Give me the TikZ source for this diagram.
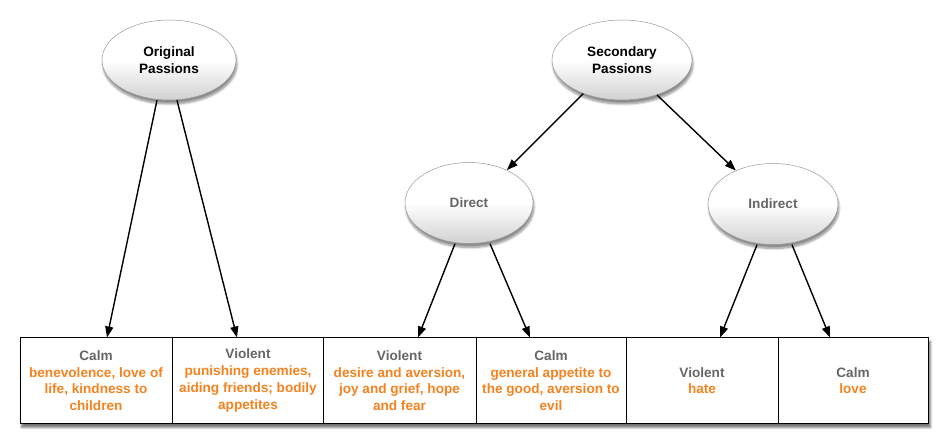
\documentclass[tikz,border=0pt]{standalone}
\usepackage{fontspec}
\setmainfont{Liberation Sans}
\usetikzlibrary{shapes.geometric,shadows.blur,arrows.meta,backgrounds}
\definecolor{hdr}{HTML}{666666}
\definecolor{org}{HTML}{F5821F}
\newcommand\Hd[1]{\textcolor{hdr}{#1}}
\newcommand\Ds[1]{\textcolor{org}{#1}}
\begin{document}
\begin{tikzpicture}[x=1pt,y=-1pt,
  passion/.style={ellipse, draw=black!40, line width=0.5pt, top color=white, bottom color=black!18,
    middle color=white, inner sep=0pt, align=center, font=\fontsize{13.6}{17}\selectfont\bfseries,
    blur shadow={shadow xshift=1pt, shadow yshift=-4pt, shadow blur steps=8, shadow opacity=45}},
  pbox/.style={draw=black, line width=1pt, fill=white, minimum height=85pt, inner sep=0pt,
    align=center, font=\fontsize{13.6}{16.7}\selectfont\bfseries},
  arr/.style={-{Triangle[length=11pt,width=8pt]}, line width=1.4pt}]
\useasboundingbox (0,0) rectangle (948,446);
\node[passion, minimum width=134pt, minimum height=80pt] (op) at (169,60) {Original\\Passions};
\node[passion, minimum width=140pt, minimum height=80pt] (sp) at (622,60) {Secondary\\Passions};
\node[passion, minimum width=128pt, minimum height=81pt, text=hdr] (di) at (469,203) {Direct};
\node[passion, minimum width=130pt, minimum height=81pt, text=hdr] (in) at (773,204) {Indirect};

\node[pbox, minimum width=152pt] (b1) at (96,380.5) {\Hd{Calm}\\\Ds{benevolence, love of}\\\Ds{life, kindness to}\\\Ds{children}};
\node[pbox, minimum width=152pt] (b2) at (248,380.5) {\Hd{Violent}\\\Ds{punishing enemies,}\\\Ds{aiding friends; bodily}\\\Ds{appetites}};
\node[pbox, minimum width=153pt] (b3) at (399.5,380.5) {\Hd{Violent}\\\Ds{desire and aversion,}\\\Ds{joy and grief, hope}\\\Ds{and fear}};
\node[pbox, minimum width=150pt] (b4) at (551,380.5) {\Hd{Calm}\\\Ds{general appetite to}\\\Ds{the good, aversion to}\\\Ds{evil}};
\node[pbox, minimum width=152pt] (b5) at (702,380.5) {\Hd{Violent}\\\Ds{hate}};
\node[pbox, minimum width=150pt] (b6) at (853,380.5) {\Hd{Calm}\\\Ds{love}};

\begin{scope}[on background layer]
\path[fill=white, blur shadow={shadow xshift=2pt, shadow yshift=-4pt, shadow blur steps=8, shadow opacity=55}]
  (b1.north west) rectangle (b6.south east);
\end{scope}

\draw[arr] ([xshift=-12pt]op.south) -- ([xshift=11pt]b1.north);
\draw[arr] ([xshift=8pt]op.south) -- ([xshift=-11pt]b2.north);
\draw[arr] (sp.221) -- (di.41);
\draw[arr] (sp.315) -- (in.138);
\draw[arr] ([xshift=-14pt]di.south) -- ([xshift=18.5pt]b3.north);
\draw[arr] ([xshift=21pt]di.south) -- ([xshift=-21pt]b4.north);
\draw[arr] ([xshift=-16pt]in.south) -- ([xshift=18pt]b5.north);
\draw[arr] ([xshift=19pt]in.south) -- ([xshift=-23pt]b6.north);
\end{tikzpicture}
\end{document}
